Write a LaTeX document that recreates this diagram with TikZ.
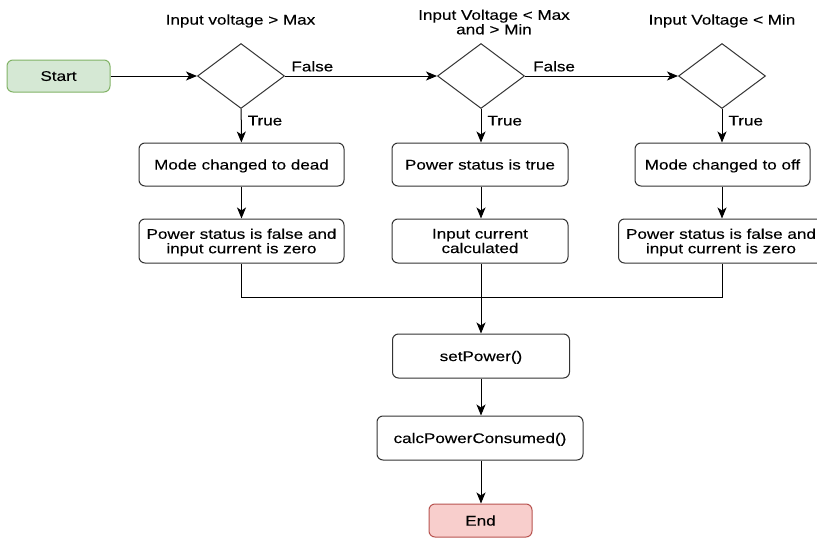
\documentclass[tikz,border=0pt]{standalone}
\usepackage{fontspec}
\setmainfont[FakeStretch=1.22,FakeBold=0.2]{Liberation Sans}
\usetikzlibrary{shapes.geometric,arrows.meta}
\definecolor{startfill}{HTML}{D5E8D4}
\definecolor{startdraw}{HTML}{82B366}
\definecolor{endfill}{HTML}{F8CECC}
\definecolor{enddraw}{HTML}{B85450}
\definecolor{boxdraw}{HTML}{333333}
\tikzset{
  txt/.style={font=\fontsize{14}{14.5}\selectfont, text=black, align=center},
  procbox/.style={txt, draw=boxdraw, line width=1pt, rounded corners=6pt, fill=white, inner sep=0pt, text depth=0pt},
  decision/.style={diamond, draw=boxdraw, line width=1pt, fill=white, inner sep=0pt, minimum width=87pt, minimum height=65pt},
  lbl/.style={txt, inner sep=0pt},
  conn/.style={draw=black, line width=1pt},
  arr/.style={conn, -{Stealth[length=11pt,width=9pt,inset=3pt]}}
}
\begin{document}
\begin{tikzpicture}[x=1pt,y=-1pt]
\clip (0,0) rectangle (817,538);
\fill[white] (0,0) rectangle (817,538);
% start
\node[procbox, fill=startfill, draw=startdraw, minimum width=103pt, minimum height=32pt] (start) at (58.5,76) {Start};
% decisions
\node[decision] (d1) at (241,76) {};
\node[decision] (d2) at (481,76) {};
\node[decision] (d3) at (722,76) {};
\node[lbl] (t1) at (240.5,21) {Input voltage > Max};
\node[lbl] (t2) at (494,22) {Input Voltage < Max\\and > Min};
\node[lbl] (t3) at (722,21) {Input Voltage < Min};
% row 1
\node[procbox, minimum width=205pt, minimum height=43pt] (r1a) at (241.5,164.5) {Mode changed to dead};
\node[procbox, minimum width=176pt, minimum height=43pt] (r1b) at (480,164.5) {Power status is true};
\node[procbox, minimum width=175pt, minimum height=43pt] (r1c) at (722.5,164.5) {Mode changed to off};
% row 2
\node[procbox, minimum width=205pt, minimum height=44pt] (r2a) at (241.5,241) {Power status is false and\\input current is zero};
\node[procbox, minimum width=176pt, minimum height=44pt] (r2b) at (480,241) {Input current\\calculated};
\node[procbox, minimum width=205pt, minimum height=44pt] (r2c) at (721,241) {Power status is false and\\input current is zero};
% bottom
\node[procbox, minimum width=177pt, minimum height=44pt] (sp) at (481,356) {setPower()};
\node[procbox, minimum width=206pt, minimum height=44pt] (cp) at (480,438) {calcPowerConsumed()};
\node[procbox, fill=endfill, draw=enddraw, minimum width=103pt, minimum height=33pt] (end) at (480.5,520.5) {End};
% connectors
\draw[arr] (start) -- (d1);
\draw[arr] (d1) -- node[lbl, above=4pt, pos=0.18] (f1) {False} (d2);
\draw[arr] (d2) -- node[lbl, above=4pt, pos=0.19] (f2) {False} (d3);
\draw[arr] (d1) -- node[lbl, right=6pt, pos=0.35] (tr1) {True} (r1a);
\draw[arr] (d2) -- node[lbl, right=6pt, pos=0.35] (tr2) {True} (r1b.north -| d2);
\draw[arr] (d3) -- node[lbl, right=6pt, pos=0.35] (tr3) {True} (r1c.north -| d3);
\draw[arr] (r1a) -- (r2a);
\draw[arr] (r1b.south -| d2) -- (r2b.north -| d2);
\draw[arr] (r1c.south -| d3) -- (r2c.north -| d3);
\coordinate (j) at (481,297);
\draw[conn] (r2a.south) |- (j);
\draw[conn] (r2c.south -| d3) |- (j);
\draw[arr] (r2b.south -| j) -- (sp.north -| j);
\draw[arr] (sp.south -| j) -- (cp.north -| j);
\draw[arr] (cp.south -| j) -- (end.north -| j);
\end{tikzpicture}
\end{document}
